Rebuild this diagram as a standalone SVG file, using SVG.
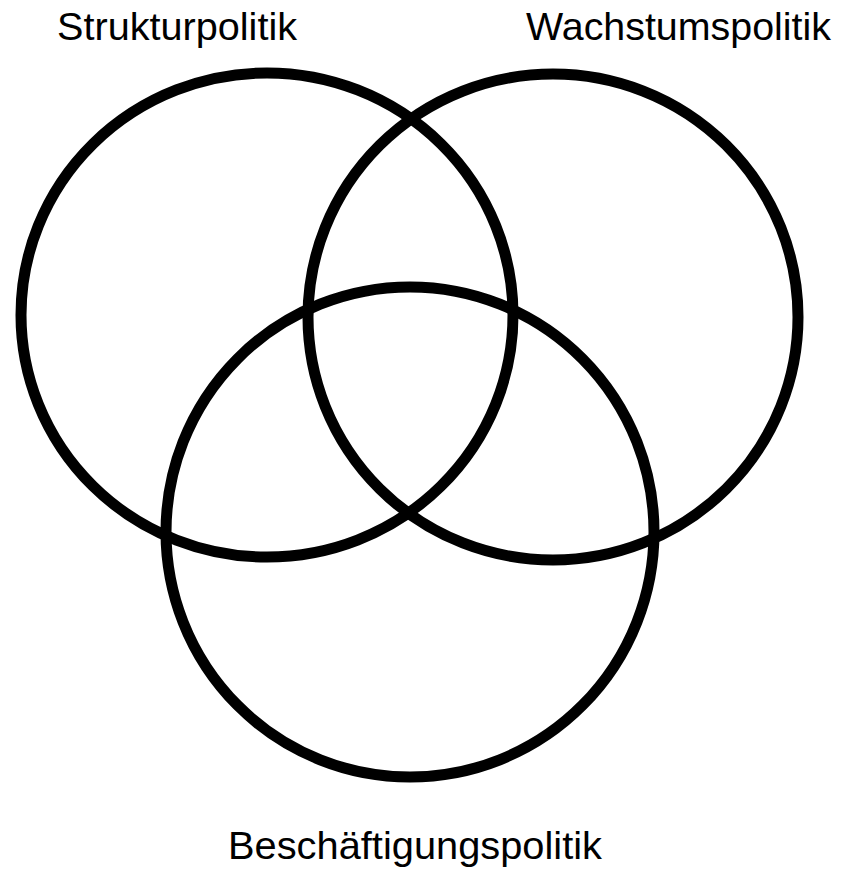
<svg xmlns="http://www.w3.org/2000/svg" width="846" height="869" viewBox="0 0 846 869">
<style>
.c{fill:none;stroke:#000;stroke-width:11}
.t{font-family:"Liberation Sans",Arial,sans-serif;font-size:39px;fill:#000}
</style>
<rect width="846" height="869" fill="#fff"/>
<g id="struktur">
<ellipse class="c" cx="267" cy="315" rx="246" ry="242"/>
<text class="t" x="57" y="40" textLength="240" lengthAdjust="spacingAndGlyphs">Strukturpolitik</text>
</g>
<g id="wachstum">
<ellipse class="c" cx="553" cy="317" rx="245" ry="243"/>
<text class="t" x="526" y="40" textLength="305" lengthAdjust="spacingAndGlyphs">Wachstumspolitik</text>
</g>
<g id="beschaeftigung">
<ellipse class="c" cx="410" cy="532" rx="244" ry="245"/>
<text class="t" x="228" y="859" textLength="374" lengthAdjust="spacingAndGlyphs">Beschäftigungspolitik</text>
</g>
</svg>
